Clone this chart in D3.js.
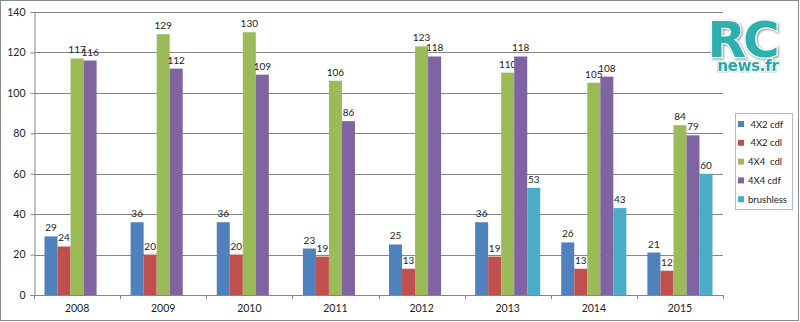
<!DOCTYPE html>
<html><head><meta charset="utf-8">
<script src="https://cdn.jsdelivr.net/npm/d3@7/dist/d3.min.js"></script>
<style>body{margin:0;background:#fff;}svg{display:block;font-family:Lato,"Open Sans",sans-serif;}</style>
</head><body>
<svg id="c" width="800" height="322"></svg>
<script>
const categories = ["2008","2009","2010","2011","2012","2013","2014","2015"];
const seriesNames = ["4X2 cdf","4X2 cdl","4X4  cdl","4X4 cdf","brushless"];
const s4x2cdf = [29,36,36,23,25,36,26,21];
const s4x2cdl = [24,20,20,19,13,19,13,12];
const s4x4cdl = [117,129,130,106,123,110,105,84];
const s4x4cdf = [116,112,109,86,118,118,108,79];
const sBrushless = [null,null,null,null,null,53,43,60];
const yTicks = [0,20,40,60,80,100,120,140];
const colors = ["#4F81BD","#C0504D","#9BBB59","#8064A2","#4BACC6"];

const seriesVals = [s4x2cdf,s4x2cdl,s4x4cdl,s4x4cdf,sBrushless];
const svg = d3.select("#c");

// outer frame
svg.append("rect").attr("x",0.5).attr("y",0.5).attr("width",798).attr("height",320)
  .attr("fill","#fff").attr("stroke","#8a8a8a");

const x = d3.scaleBand().domain(categories).range([34,723]);
const xs = d3.scaleBand().domain(seriesNames).range([10.5, x.bandwidth()-10.5]);
const y = d3.scaleLinear().domain([0,140]).range([295,12]);

// gridlines
svg.append("g").selectAll("line").data(yTicks.filter(t=>t>0)).join("line")
  .attr("x1",34).attr("x2",723).attr("y1",d=>Math.round(y(d))+0.5).attr("y2",d=>Math.round(y(d))+0.5)
  .attr("stroke","#868686").attr("stroke-width",1);

// y axis
const ya = svg.append("g").attr("transform","translate(34.5,0)")
  .call(d3.axisLeft(y).tickValues(yTicks).tickSize(4).tickSizeOuter(0).tickFormat(d3.format("d")));
ya.select(".domain").attr("stroke","#868686");
ya.selectAll(".tick line").attr("stroke","#868686");
ya.selectAll(".tick text").attr("font-size",10.5).attr("fill","#222").attr("x",-9).attr("font-family","Lato,sans-serif");

// bars
seriesNames.forEach((s,i)=>{
  const data = categories.map((c,j)=>({c, v: seriesVals[i][j]})).filter(d=>d.v!=null);
  svg.append("g").selectAll("rect").data(data).join("rect")
    .attr("x",d=>x(d.c)+xs(s)).attr("width",xs.bandwidth())
    .attr("y",d=>y(d.v)).attr("height",d=>y(0)-y(d.v)).attr("fill",colors[i]);
  svg.append("g").selectAll("text").data(data).join("text")
    .attr("x",d=>x(d.c)+xs(s)+xs.bandwidth()/2).attr("y",d=>y(d.v)-5)
    .attr("text-anchor","middle").attr("font-size",10).attr("fill","#222").text(d=>d.v);
});

// x axis
const xa = svg.append("g").attr("transform","translate(0,295.5)")
  .call(d3.axisBottom(x).tickSize(0).tickSizeOuter(0));
xa.select(".domain").remove();
svg.append("line").attr("x1",30).attr("x2",723).attr("y1",295.5).attr("y2",295.5).attr("stroke","#868686");
svg.append("g").selectAll("line").data(categories.concat(["end"])).join("line")
  .attr("x1",(d,i)=>Math.round(34+i*x.step())+0.5).attr("x2",(d,i)=>Math.round(34+i*x.step())+0.5)
  .attr("y1",295).attr("y2",299).attr("stroke","#868686");
xa.selectAll(".tick text").attr("font-size",10.5).attr("fill","#222").attr("y",9).attr("font-family","Lato,sans-serif");

// legend
const lg = svg.append("g");
lg.append("rect").attr("x",735.5).attr("y",113.5).attr("width",57).attr("height",96)
  .attr("fill","#fff").attr("stroke","#b0b8c8");
seriesNames.forEach((s,i)=>{
  const yy = 124 + i*18.8;
  lg.append("rect").attr("x",738).attr("y",yy-3).attr("width",6).attr("height",6).attr("fill",colors[i]);
  lg.append("text").attr("x",748).attr("y",yy+3.5).attr("font-size",9.5).attr("fill","#222")
    .attr("xml:space","preserve").style("white-space","pre").text(i<2?" "+s:s);
});

// logo
const logo = svg.append("g");
logo.append("text").attr("x",742).attr("y",57).attr("text-anchor","middle")
  .attr("font-family","'DejaVu Sans',sans-serif").attr("font-weight","bold").attr("font-size",50)
  .attr("letter-spacing",-3)
  .attr("fill","#2fb0b0").attr("stroke","#fff").attr("stroke-width",2.5).attr("paint-order","stroke")
  .style("filter","drop-shadow(1px 1px 1px rgba(0,0,0,0.45))").text("RC");
logo.append("text").attr("x",748).attr("y",71).attr("text-anchor","middle")
  .attr("font-family","'DejaVu Sans',sans-serif").attr("font-weight","bold").attr("font-size",15)
  .attr("letter-spacing",-0.3)
  .attr("fill","#2aa8a8").attr("stroke","#fff").attr("stroke-width",2.5).attr("paint-order","stroke")
  .style("filter","drop-shadow(0.5px 0.5px 0.6px rgba(0,0,0,0.5))").text("news.fr");
</script>
</body></html>
